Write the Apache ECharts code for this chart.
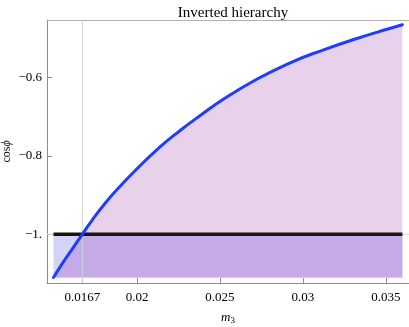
<!DOCTYPE html>
<html>
<head>
<meta charset="utf-8">
<script src="https://cdn.jsdelivr.net/npm/echarts@6/dist/echarts.min.js"></script>
<style>
  html, body { margin: 0; padding: 0; background: #fff; }
  #main { width: 409px; height: 327px; }
</style>
</head>
<body>
<div id="main"></div>
<script>
// curve (m3, cos phi)
var curveX = [0.01496, 0.01553, 0.01613, 0.0167, 0.01734, 0.01815, 0.01895, 0.01976, 0.02137, 0.02258, 0.02379, 0.0252, 0.02722, 0.02923, 0.03125, 0.03326, 0.03528, 0.036];
var curveY = [-1.11, -1.072, -1.035, -1.0, -0.961, -0.917, -0.879, -0.843, -0.778, -0.736, -0.698, -0.656, -0.605, -0.563, -0.530, -0.501, -0.475, -0.466];
var crossIndex = 3;          // point where the curve meets cos phi = -1
var fillLeft = 0.01496, fillRight = 0.036, fillBottom = -1.11, levelY = -1;
var xMin = 0.01457, xMax = 0.0364, yMin = -1.124, yMax = -0.454;
var xTicks = [0.0167, 0.02, 0.025, 0.03, 0.035];
var xTickLabels = ['0.0167', '0.02', '0.025', '0.03', '0.035'];
var yTicks = [-1, -0.8, -0.6];
var yTickLabels = ['\u22121.', '\u22120.8', '\u22120.6'];

var curveData = curveX.map(function (x, i) { return [x, curveY[i]]; });

// polygons (in data coords) for the shaded regions
var pinkPoly = curveData.concat([[fillRight, fillBottom], [fillLeft, fillBottom]]);
var purplePoly = curveData.slice(0, crossIndex + 1).concat([[fillRight, levelY], [fillRight, fillBottom]]);
var lavenderPoly = [[fillLeft, levelY]].concat(curveData.slice(0, crossIndex + 1).reverse());
var regions = [pinkPoly, purplePoly, lavenderPoly];
var regionColors = ['#e8d1eb', '#c4aae7', '#d4d3f7'];

var axisGray = '#8c8c8c';
var gridGray = '#cdd6d6';
var font = 'Liberation Serif';

var chart = echarts.init(document.getElementById('main'));
var option = {
    animation: false,
    title: {
        text: 'Inverted hierarchy',
        left: 228, top: 1, textAlign: 'center',
        textStyle: { fontFamily: font, fontSize: 15, fontWeight: 'normal', color: '#000' }
    },
    grid: { left: 47, top: 20, right: 0, bottom: 44, containLabel: false, outerBoundsMode: 'none' },
    xAxis: [{
        type: 'value',
        min: xMin, max: xMax,
        name: '{i|m}{s|3}',
        nameLocation: 'middle', nameGap: 27,
        nameTextStyle: {
            rich: {
                i: { fontFamily: font, fontStyle: 'italic', fontSize: 13, color: '#000' },
                s: { fontFamily: font, fontSize: 9, color: '#000', verticalAlign: 'bottom', padding: [6, 0, 0, 0] }
            }
        },
        axisLine: { lineStyle: { color: axisGray } },
        axisTick: { inside: true, length: 5, customValues: xTicks, lineStyle: { color: axisGray } },
        axisLabel: {
            customValues: xTicks, margin: 8,
            fontFamily: font, fontSize: 13, color: '#000',
            formatter: function (v) {
                var i = xTicks.indexOf(v);
                return i >= 0 ? xTickLabels[i] : '';
            }
        },
        splitLine: { show: false }
    }, {
        type: 'value', position: 'top',
        min: xMin, max: xMax,
        axisLine: { show: true, lineStyle: { color: '#b0b0b0' } },
        axisTick: { show: false }, axisLabel: { show: false }, splitLine: { show: false }
    }],
    yAxis: {
        type: 'value',
        min: yMin, max: yMax,
        name: '{n|cos}{i|\u03d5}',
        nameLocation: 'middle', nameGap: 34, nameRotate: 90,
        nameMoveOverlap: false,
        nameTextStyle: {
            rich: {
                n: { fontFamily: font, fontSize: 12, color: '#000' },
                i: { fontFamily: font, fontStyle: 'italic', fontSize: 12, color: '#000' }
            }
        },
        axisLine: { show: true, lineStyle: { color: axisGray } },
        axisTick: { show: true, inside: true, length: 5, customValues: yTicks, lineStyle: { color: axisGray } },
        axisLabel: {
            customValues: yTicks, margin: 5,
            fontFamily: font, fontSize: 13, color: '#000',
            formatter: function (v) {
                var i = yTicks.indexOf(v);
                return i >= 0 ? yTickLabels[i] : '';
            }
        },
        splitLine: { show: false }
    },
    series: [{
        type: 'custom',
        z: 1,
        silent: true,
        data: regions.map(function (r, i) { return i; }),
        renderItem: function (params, api) {
            var idx = api.value(0);
            var pts = regions[idx].map(function (p) { return api.coord(p); });
            return {
                type: 'polygon',
                shape: { points: pts },
                style: { fill: regionColors[idx], stroke: null }
            };
        }
    }, {
        // light grid line at m3 = 0.0167
        type: 'line', z: 3, silent: true,
        data: [[0.0167, yMin], [0.0167, yMax]],
        symbol: 'none',
        lineStyle: { color: gridGray, width: 1 }
    }, {
        // light grid line at cos phi = -1
        type: 'line', z: 3, silent: true,
        data: [[xMin, levelY], [xMax, levelY]],
        symbol: 'none',
        lineStyle: { color: gridGray, width: 1 }
    }, {
        type: 'line', z: 4,
        data: [[fillLeft, levelY], [fillRight, levelY]],
        symbol: 'none',
        lineStyle: { color: '#151515', width: 3.5 }
    }, {
        type: 'line', z: 5,
        data: curveData,
        smooth: true,
        symbol: 'none',
        lineStyle: { color: '#1f3cff', width: 3, cap: 'round' }
    }]
};
chart.setOption(option);
</script>
</body>
</html>
